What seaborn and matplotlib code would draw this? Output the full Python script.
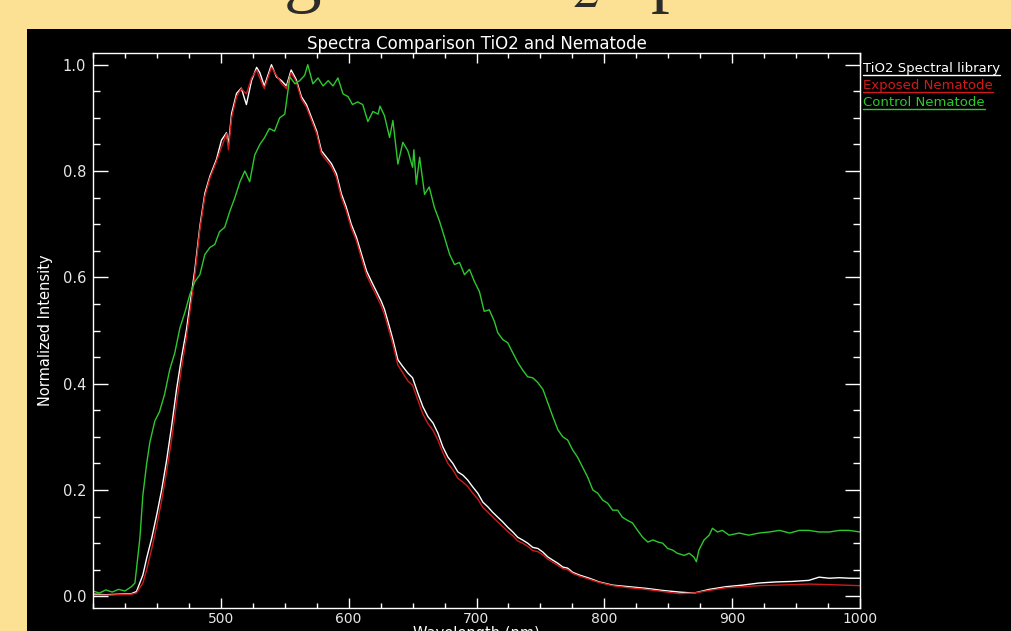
import matplotlib
matplotlib.use("Agg")
import matplotlib.pyplot as plt
import matplotlib.patches as mpatches
from matplotlib.lines import Line2D
from matplotlib.ticker import MultipleLocator, FixedLocator, FormatStrFormatter
import seaborn as sns
import pandas as pd

# --- data ---
tio2_wl = [400, 410, 420, 430, 434, 439, 442, 446, 450, 453.7, 457.6, 461.5, 465.4, 469.3, 473,
           479.7, 483.6, 487.5, 491.4, 496.6, 500.5, 504.4, 506, 508.4, 512.3, 516, 520, 524, 528,
           530.5, 534, 539.6, 543.5, 547.4, 551.3, 555, 559, 563, 567, 571, 575, 578.7, 582.6,
           586.5, 590.4, 594.3, 598, 602, 606, 610, 614, 617.7, 621.6, 625.5, 628, 632, 634.6,
           638.5, 642.4, 646.3, 650, 654, 658, 662, 666, 669.8, 673.7, 677.6, 681.5, 685.4, 689.3,
           693, 697, 701, 705, 709, 712.7, 716.6, 720.5, 724.4, 728.4, 732.3, 736, 740, 744, 748,
           752, 755.8, 759.7, 763.7, 767.5, 771.3, 775.3, 780.5, 788.3, 796, 806.5, 819.5, 832.5,
           845.6, 858.6, 870, 882, 895, 908, 921, 934, 947, 960, 968, 976, 984, 992, 1000]
tio2_val = [0.004, 0.003, 0.004, 0.005, 0.009, 0.04, 0.072, 0.11, 0.155, 0.2, 0.256, 0.32, 0.39,
            0.45, 0.5, 0.615, 0.696, 0.758, 0.79, 0.822, 0.858, 0.872, 0.85, 0.908, 0.946, 0.956,
            0.925, 0.97, 0.995, 0.985, 0.96, 1.0, 0.977, 0.97, 0.96, 0.99, 0.972, 0.94, 0.925, 0.9,
            0.875, 0.838, 0.826, 0.814, 0.795, 0.757, 0.733, 0.70, 0.676, 0.644, 0.612, 0.593,
            0.574, 0.555, 0.54, 0.506, 0.483, 0.445, 0.432, 0.42, 0.411, 0.383, 0.357, 0.338,
            0.326, 0.307, 0.281, 0.262, 0.25, 0.234, 0.228, 0.219, 0.206, 0.194, 0.177, 0.168,
            0.158, 0.149, 0.14, 0.13, 0.121, 0.111, 0.106, 0.10, 0.092, 0.09, 0.083, 0.074, 0.068,
            0.062, 0.055, 0.053, 0.045, 0.04, 0.034, 0.027, 0.021, 0.018, 0.015, 0.011, 0.008,
            0.006, 0.013, 0.018, 0.021, 0.025, 0.027, 0.028, 0.03, 0.036, 0.034, 0.035, 0.034,
            0.034]

exposed_wl = [400, 410, 420, 430, 434, 439, 442, 446, 450, 453.7, 457.6, 461.5, 465.4, 469.3, 473,
              479.7, 483.6, 487.5, 491.4, 496.6, 500.5, 504.4, 506, 508.4, 512.3, 516, 520, 524,
              528, 530.5, 534, 539.6, 543.5, 547.4, 551.3, 555, 559, 563, 567, 571, 575, 578.7,
              582.6, 586.5, 590.4, 594.3, 598, 602, 606, 610, 614, 617.7, 621.6, 625.5, 628, 632,
              634.6, 638.5, 642.4, 646.3, 650, 654, 658, 662, 666, 669.8, 673.7, 677.6, 681.5,
              685.4, 689.3, 693, 697, 701, 705, 709, 712.7, 716.6, 720.5, 724.4, 728.4, 732.3, 736,
              740, 744, 748, 752, 755.8, 759.7, 763.7, 767.5, 771.3, 775.3, 780.5, 788.3, 796,
              806.5, 819.5, 832.5, 845.6, 858.6, 870, 882, 895, 908, 921, 934, 947, 960, 976, 988,
              1000]
exposed_val = [0.002, 0.002, 0.003, 0.004, 0.006, 0.025, 0.05, 0.09, 0.135, 0.18, 0.235, 0.295,
               0.365, 0.43, 0.485, 0.605, 0.69, 0.752, 0.786, 0.818, 0.845, 0.87, 0.84, 0.9,
               0.94, 0.955, 0.945, 0.975, 0.99, 0.975, 0.955, 0.995, 0.98, 0.965, 0.955, 0.985,
               0.968, 0.935, 0.92, 0.895, 0.87, 0.832, 0.82, 0.808, 0.788, 0.75, 0.726, 0.693,
               0.669, 0.636, 0.604, 0.585, 0.566, 0.546, 0.53, 0.496, 0.474, 0.435, 0.42, 0.405,
               0.397, 0.37, 0.343, 0.325, 0.312, 0.294, 0.27, 0.25, 0.238, 0.222, 0.215, 0.207,
               0.194, 0.183, 0.167, 0.158, 0.149, 0.14, 0.131, 0.122, 0.114, 0.104, 0.1, 0.094,
               0.086, 0.084, 0.078, 0.07, 0.064, 0.058, 0.052, 0.05, 0.043, 0.038, 0.032, 0.026,
               0.02, 0.016, 0.013, 0.009, 0.005, 0.006, 0.011, 0.016, 0.018, 0.02, 0.021, 0.022,
               0.023, 0.022, 0.021, 0.02]

control_wl = [400, 405, 410, 415, 420, 425, 430, 432.8, 436.7, 439, 442, 444.5, 448.4, 452, 456,
              460, 464, 468, 472, 475.8, 479.7, 483.6, 487.5, 491.4, 495.3, 499, 503, 507, 511,
              515, 518.75, 522.6, 526.5, 530.5, 534, 538, 542, 546, 550, 554, 558, 561.7, 565.6,
              568, 572, 576, 580, 584, 587.7, 591.6, 595.6, 599.5, 603, 607, 611, 615, 619, 623,
              624.5, 628, 632, 634.6, 638.5, 642.4, 646.3, 650, 651, 652.9, 655.5, 659.4, 663,
              667, 671, 675, 679, 682.8, 686.7, 690.6, 694.5, 698.4, 702.3, 706, 710, 714, 716.6,
              720.5, 724.4, 728.4, 732.3, 736, 740, 744, 748, 752, 755.8, 759.7, 763.7, 767.5,
              771.3, 775.3, 779, 783, 787, 791, 794.8, 798.7, 802.6, 806.5, 810.4, 814, 818, 822,
              826, 830, 834, 838, 842, 845.6, 849.5, 853.4, 857, 862.5, 866.4, 870, 872, 874, 878,
              882, 884.6, 888.5, 892.4, 897.6, 905.5, 913, 921, 929, 937, 945, 952.5, 960, 968,
              976, 984, 991.4, 1000]
control_val = [0.01, 0.006, 0.012, 0.008, 0.013, 0.01, 0.018, 0.025, 0.11, 0.19, 0.25, 0.29, 0.33,
               0.347, 0.38, 0.426, 0.458, 0.505, 0.535, 0.568, 0.592, 0.605, 0.643, 0.656, 0.662,
               0.686, 0.694, 0.724, 0.75, 0.78, 0.80, 0.78, 0.83, 0.85, 0.862, 0.88, 0.875, 0.90,
               0.907, 0.977, 0.964, 0.97, 0.98, 1.0, 0.964, 0.975, 0.96, 0.97, 0.96, 0.975, 0.945,
               0.94, 0.925, 0.93, 0.925, 0.893, 0.912, 0.907, 0.922, 0.904, 0.863, 0.895, 0.813,
               0.854, 0.838, 0.807, 0.84, 0.775, 0.826, 0.756, 0.77, 0.732, 0.706, 0.675, 0.643,
               0.624, 0.628, 0.605, 0.615, 0.592, 0.573, 0.536, 0.539, 0.517, 0.496, 0.483, 0.477,
               0.458, 0.44, 0.426, 0.413, 0.411, 0.402, 0.389, 0.364, 0.338, 0.313, 0.30, 0.294,
               0.275, 0.262, 0.243, 0.224, 0.2, 0.194, 0.181, 0.175, 0.162, 0.162, 0.149, 0.143,
               0.138, 0.124, 0.111, 0.102, 0.106, 0.102, 0.10, 0.09, 0.087, 0.081, 0.077, 0.081,
               0.074, 0.065, 0.087, 0.106, 0.115, 0.128, 0.121, 0.124, 0.115, 0.119, 0.115, 0.119,
               0.121, 0.124, 0.119, 0.124, 0.124, 0.121, 0.121, 0.124, 0.124, 0.121]

series_names = ["TiO2 Spectral library", "Exposed Nematode", "Control Nematode"]
series_colors = ["#ffffff", "#d01a1a", "#2ec82e"]

SLIDE_BG = "#fce094"
W, H = 1011, 631

sns.set_theme(style="ticks", rc={
    "axes.facecolor": "black",
    "figure.facecolor": SLIDE_BG,
    "axes.edgecolor": "white",
    "axes.labelcolor": "white",
    "text.color": "white",
    "xtick.color": "white",
    "ytick.color": "white",
    "axes.linewidth": 1.0,
})
plt.rcParams["font.family"] = ["DejaVu Sans"]
plt.rcParams["mathtext.fontset"] = "stix"

fig = plt.figure(figsize=(W / 100, H / 100), dpi=100)

# black slide panel behind the plot
fig.patches.append(mpatches.Rectangle((27 / W, 0), (W - 27) / W, (H - 29) / H,
                                      transform=fig.transFigure, facecolor="black",
                                      edgecolor="none", zorder=-5))

# slide heading, mostly cut off by the top of the picture
fig.text(34 / W, 1.0 + 2 / H, "Matching the TiO$_2$ spectra", fontsize=54,
         family="Liberation Serif", color="#2b2b2b", ha="left", va="baseline")

ax = fig.add_axes([93 / W, (H - 608) / H, 767 / W, 555 / H])
ax.set_zorder(2)

frames = []
for wl, val, name in zip([tio2_wl, exposed_wl, control_wl],
                         [tio2_val, exposed_val, control_val], series_names):
    frames.append(pd.DataFrame({"wavelength": wl, "intensity": val, "series": name}))
df = pd.concat(frames, ignore_index=True)

sns.lineplot(data=df, x="wavelength", y="intensity", hue="series", hue_order=series_names,
             palette=series_colors, estimator=None, sort=False, linewidth=1.0,
             legend=False, ax=ax)

ax.set_xlim(400, 1000)
ax.set_ylim(-0.022, 1.022)
ax.xaxis.set_major_locator(FixedLocator([500, 600, 700, 800, 900, 1000]))
ax.xaxis.set_minor_locator(MultipleLocator(25))
ax.yaxis.set_major_locator(MultipleLocator(0.2))
ax.yaxis.set_minor_locator(MultipleLocator(0.05))
ax.yaxis.set_major_formatter(FormatStrFormatter("%.1f"))

ax.tick_params(axis="x", which="major", direction="in", length=7.2, width=1,
               top=True, bottom=True, labelsize=10, pad=3, labelcolor="#e6e6e6")
ax.tick_params(axis="x", which="minor", direction="in", length=3.6, width=1,
               top=True, bottom=True)
ax.tick_params(axis="y", which="major", direction="in", length=10.8, width=1,
               left=True, right=True, labelsize=10.5, pad=5, labelcolor="#e6e6e6")
ax.tick_params(axis="y", which="minor", direction="in", length=5, width=1,
               left=True, right=True)
for sp in ax.spines.values():
    sp.set_color("white")

ax.set_title("Spectra Comparison TiO2 and Nematode", fontsize=12, color="white", pad=3)
ax.set_xlabel("Wavelength (nm)", fontsize=10.5, labelpad=0)
ax.set_ylabel("Normalized Intensity", fontsize=10.5, labelpad=7)

# underlined legend at the right, as in the original IDL plot
fig.canvas.draw()
renderer = fig.canvas.get_renderer()
legend_y = [72, 89, 106]
for name, color, yb in zip(series_names, series_colors, legend_y):
    t = fig.text(863 / W, 1 - yb / H, name, fontsize=9.5, color=color,
                 ha="left", va="baseline", zorder=3)
    bb = t.get_window_extent(renderer)
    uy = 1 - (yb + 2.5) / H
    fig.add_artist(Line2D([bb.x0 / W, bb.x1 / W], [uy, uy], color=color, lw=1,
                          transform=fig.transFigure, zorder=3))

fig.savefig("out.png", dpi=100, facecolor=SLIDE_BG)
